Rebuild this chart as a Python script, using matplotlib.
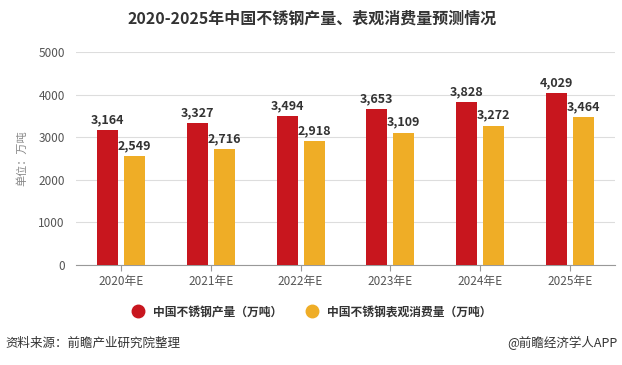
import matplotlib
matplotlib.use("Agg")
import matplotlib.pyplot as plt
import numpy as np
from matplotlib.lines import Line2D

plt.rcParams['font.family'] = ['Noto Sans CJK SC', 'DejaVu Sans']

categories = ["2020年E", "2021年E", "2022年E", "2023年E", "2024年E", "2025年E"]
production = [3164, 3327, 3494, 3653, 3828, 4029]
consumption = [2549, 2716, 2918, 3109, 3272, 3464]
series_names = ["中国不锈钢产量（万吨）", "中国不锈钢表观消费量（万吨）"]
yticks = [0, 1000, 2000, 3000, 4000, 5000]

red = "#C8161E"
yellow = "#EFAD26"

fig = plt.figure(figsize=(6.22, 3.65), dpi=100)
ax = fig.add_axes([76/622, 1-265/365, (615-76)/622, (265-52)/365])

x = np.arange(len(categories))
w = 0.235
gap = 0.065
ax.bar(x - (w+gap)/2, production, width=w, color=red, zorder=3)
ax.bar(x + (w+gap)/2, consumption, width=w, color=yellow, zorder=3)

for xi, v in zip(x, production):
    ax.text(xi - (w+gap)/2, v + 90, f"{v:,}", ha="center", va="bottom",
            fontsize=9, fontweight="bold", color="#333333")
for xi, v in zip(x, consumption):
    ax.text(xi + (w+gap)/2, v + 90, f"{v:,}", ha="center", va="bottom",
            fontsize=9, fontweight="bold", color="#333333")

ax.set_xlim(-0.5, len(categories) - 0.5)
ax.set_ylim(0, 5000)
ax.set_yticks(yticks)
ax.set_yticklabels([str(t) for t in yticks], color="#555555", fontsize=8.5)
ax.set_xticks(x)
ax.set_xticklabels(categories, color="#555555", fontsize=8.5)
ax.tick_params(axis="y", length=0, pad=8)
ax.tick_params(axis="x", length=4, color="#999999", pad=3)
ax.grid(axis="y", color="#dddddd", linewidth=0.8, zorder=0)
for s in ["top", "right", "left"]:
    ax.spines[s].set_visible(False)
ax.spines["bottom"].set_color("#999999")

fig.text(22/622, 1-158/365, "单位：万吨", rotation=90, ha="center", va="center",
         fontsize=8, color="#888888")

fig.text(312/622, 1-19/365, "2020-2025年中国不锈钢产量、表观消费量预测情况", ha="center", va="center",
         fontsize=11.5, fontweight="bold", color="#333333")

handles = [Line2D([], [], marker="o", linestyle="", markersize=9, color=red),
           Line2D([], [], marker="o", linestyle="", markersize=9, color=yellow)]
leg = fig.legend(handles, series_names, loc="center", bbox_to_anchor=(309/622, 1-312/365),
                 ncol=2, frameon=False, handletextpad=0.3, columnspacing=1.5,
                 prop={'family': ['Noto Sans CJK SC', 'DejaVu Sans'], 'size': 8.5, 'weight': 'bold'})
for t in leg.get_texts():
    t.set_color("#333333")

fig.text(5/622, 1-343/365, "资料来源：前瞻产业研究院整理", ha="left", va="center",
         fontsize=9, color="#333333")
fig.text(618/622, 1-343/365, "@前瞻经济学人APP", ha="right", va="center",
         fontsize=9, color="#333333")

fig.savefig("out.png", dpi=100)
